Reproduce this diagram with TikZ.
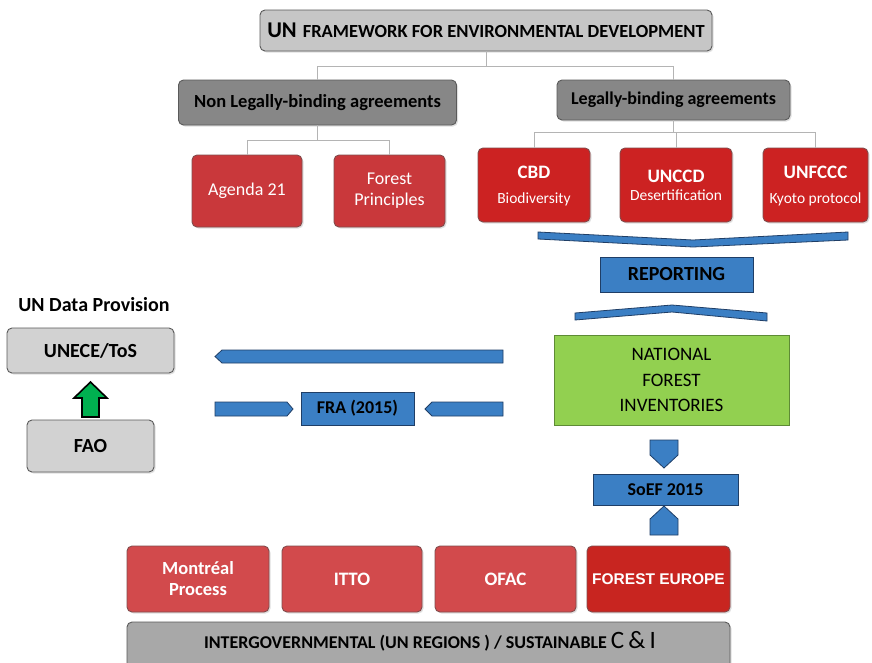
\documentclass[tikz,border=0pt]{standalone}
\usepackage{fontspec}
\setmainfont{Carlito}
\newfontfamily\arialf{Liberation Sans}
\usetikzlibrary{shadows}
\definecolor{lgray}{HTML}{D2D2D2}
\definecolor{tgray}{HTML}{C6C6C6}
\definecolor{mgray}{HTML}{878787}
\definecolor{bgray}{HTML}{A8A8A8}
\definecolor{dborder}{HTML}{5A5A5A}
\definecolor{redA}{HTML}{C9383B}
\definecolor{redB}{HTML}{CC2222}
\definecolor{redC}{HTML}{D24A4C}
\definecolor{redD}{HTML}{C82520}
\definecolor{blueA}{HTML}{3B7FC4}
\definecolor{blueB}{HTML}{1F3E66}
\definecolor{greenA}{HTML}{92D050}
\definecolor{greenB}{HTML}{5E8B35}
\definecolor{arrowg}{HTML}{00B050}
\definecolor{treeg}{HTML}{B4B4B4}
\newcommand{\fsz}[1]{\fontsize{#1}{#1}\selectfont}
\tikzset{
  base/.style={rounded corners=5pt, line width=0.9pt, align=center, inner sep=0pt,
    drop shadow={shadow xshift=1.5pt, shadow yshift=-1.5pt, opacity=0.25}},
  graybox/.style={base, fill=lgray, draw=dborder},
  darkbox/.style={base, fill=mgray, draw=dborder},
  redbox/.style={base, fill=redA, draw=red!30!black!70, text=white},
  redbrt/.style={base, fill=redB, draw=red!30!black!70, text=white},
  redlow/.style={base, fill=redC, draw=red!30!black!70, text=white},
  bluebox/.style={line width=0.9pt, fill=blueA, draw=blueB, align=center, inner sep=0pt},
  bluearrow/.style={line width=0.8pt, fill=blueA, draw=blueB, line join=miter},
  tree/.style={draw=treeg, line width=1pt},
}
\begin{document}
\begin{tikzpicture}[x=1pt,y=-1pt]
\clip (0,0) rectangle (872,662);
\fill[white] (0,0) rectangle (872,662);

% top
\node[base, fill=tgray, draw=dborder, minimum width=452, minimum height=41] (top) at (486,30.5)
  {\bfseries{\fsz{22.5}UN}\hspace{6pt}{\fsz{18.5}FRAMEWORK FOR ENVIRONMENTAL DEVELOPMENT}};
\node[darkbox, minimum width=278, minimum height=45, font=\bfseries\fsz{18.5}] (nonleg) at (317.5,102.5)
  {Non Legally-binding agreements};
\node[darkbox, minimum width=233, minimum height=40, font=\bfseries\fsz{18}] (leg) at (673.5,100)
  {Legally-binding agreements};

\draw[tree] (top.south) -- ++(0,15) -| (nonleg.north);
\draw[tree] (top.south) -- ++(0,15) -| (leg.north);

% second level
\node[redbox, minimum width=110, minimum height=72, font=\fontsize{18}{22}\selectfont] (agenda) at (247,191)
  {Agenda 21};
\node[redbox, minimum width=111, minimum height=72, font=\fontsize{18}{21}\selectfont] (fp) at (389.5,191)
  {Forest\\Principles};
\draw[tree] (nonleg.south) -- ++(0,15) -| (agenda.north);
\draw[tree] (nonleg.south) -- ++(0,15) -| (fp.north);

\node[redbrt, minimum width=112, minimum height=74] (cbd) at (534,185) {};
\node[redbrt, minimum width=112, minimum height=74] (unccd) at (676,185) {};
\node[redbrt, minimum width=105, minimum height=74] (unfccc) at (815.5,185) {};
\node[text=white, font=\bfseries\fsz{19}] (cbdt) at (534,172) {CBD};
\node[text=white, font=\fsz{15.5}] (cbds) at (534,199) {Biodiversity};
\node[text=white, font=\bfseries\fsz{19}] (unccdt) at (676,176) {UNCCD};
\node[text=white, font=\fsz{15.5}] (unccds) at (676,195) {Desertification};
\node[text=white, font=\bfseries\fsz{19}] (unfccct) at (815.5,172) {UNFCCC};
\node[text=white, font=\fsz{15.5}] (unfcccs) at (815.5,199) {Kyoto protocol};
\draw[tree] (leg.south) -- ++(0,12) -| (cbd.north);
\draw[tree] (leg.south) -- ++(0,12) -| (unccd.north);
\draw[tree] (leg.south) -- ++(0,12) -| (unfccc.north);

% reporting chevrons
\path[bluearrow] (538,232) -- (693,240) -- (848,232) -- (848,240) -- (693,247) -- (538,239) -- cycle;
\node[bluebox, minimum width=153, minimum height=35, font=\bfseries\fsz{20}] (rep) at (676.5,274.5)
  {REPORTING};
\path[bluearrow] (575,313) -- (672,305) -- (767,313) -- (767,321) -- (672,312) -- (575,320) -- cycle;

% NFI
\node[line width=0.9pt, fill=greenA, draw=greenB, align=center, inner sep=0pt,
  minimum width=235, minimum height=90, font=\fontsize{19}{25.5}\selectfont] (nfi) at (671.5,380)
  {NATIONAL\\FOREST\\INVENTORIES};

% SoEF
\path[bluearrow] (650,440) -- (678,440) -- (678,455) -- (664,468) -- (650,455) -- cycle;
\node[bluebox, minimum width=145, minimum height=31, font=\bfseries\fsz{18}] (soef) at (665.5,489.5)
  {SoEF 2015};
\path[bluearrow] (650,535) -- (678,535) -- (678,519) -- (664,506) -- (650,519) -- cycle;

% left side
\node[font=\bfseries\fsz{20}] (udp) at (94,305) {UN Data Provision};
\node[graybox, minimum width=167, minimum height=45, font=\bfseries\fsz{20}] (unece) at (90.5,350.5)
  {UNECE/ToS};
\node[graybox, minimum width=127, minimum height=52, font=\bfseries\fsz{20}] (fao) at (90.5,446)
  {FAO};
\path[fill=arrowg, draw=black, line width=1.6pt, line join=miter]
  (82,417) -- (99,417) -- (99,398) -- (107,398) -- (90.5,382) -- (74,398) -- (82,398) -- cycle;

% long arrows
\path[bluearrow] (503,350) -- (503,363) -- (222,363) -- (215,356.5) -- (222,350) -- cycle;
\path[bluearrow] (215,402) -- (287,402) -- (293,409) -- (287,416) -- (215,416) -- cycle;
\node[bluebox, minimum width=113, minimum height=33, font=\bfseries\fsz{18}] (fra) at (357.5,408.5)
  {FRA (2015)};
\path[bluearrow] (503,402) -- (432,402) -- (425,409) -- (432,416) -- (503,416) -- cycle;

% bottom row
\node[redlow, minimum width=142, minimum height=66, font=\bfseries\fontsize{18.5}{21}\selectfont] (mp) at (198,579)
  {Montréal\\Process};
\node[redlow, minimum width=140, minimum height=66, font=\bfseries\fsz{19}] (itto) at (352,579)
  {ITTO};
\node[redlow, minimum width=141, minimum height=66, font=\bfseries\fsz{19}] (ofac) at (505.5,579)
  {OFAC};
\node[base, fill=redD, draw=red!30!black!70, text=white, minimum width=143, minimum height=66,
  font=\arialf\bfseries\fsz{15.5}] (fe) at (658.5,579)
  {FOREST EUROPE};
\node[base, fill=bgray, draw=dborder, minimum width=603, minimum height=50] (igov) at (428.5,647)
  {};
\node (igovt) at (430,641) {\bfseries\fsz{18}INTERGOVERNMENTAL (UN REGIONS ) / SUSTAINABLE {\mdseries\fsz{25}C\,\&\,I}};
\end{tikzpicture}
\end{document}
